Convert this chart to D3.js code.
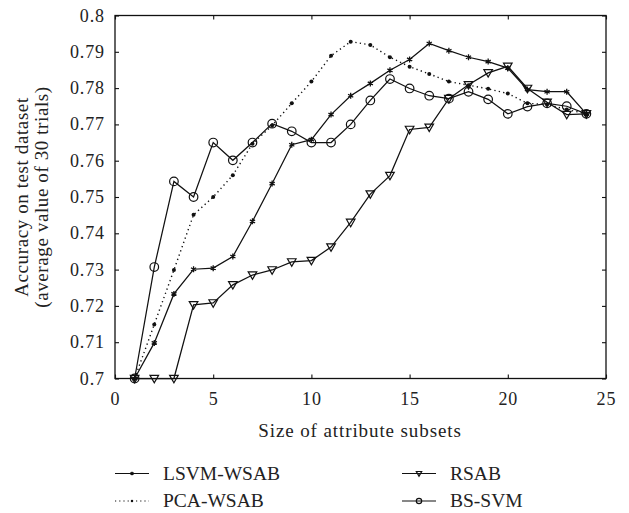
<!DOCTYPE html>
<html>
<head>
<meta charset="utf-8">
<script src="https://cdn.jsdelivr.net/npm/d3@7"></script>
<style>
  html, body { margin: 0; padding: 0; background: #fff; }
  svg text { font-family: "Liberation Serif", "DejaVu Serif", serif; fill: #222; }
</style>
</head>
<body>
<svg id="chart" width="629" height="513"></svg>
<script>
// Subset sizes (x) and accuracy per method
const sizes = d3.range(1, 25);
const lsvmWsab = [0.700, 0.7098, 0.7233, 0.7301, 0.7304, 0.7336, 0.7433, 0.7537, 0.7644, 0.7658,
                  0.7727, 0.7779, 0.7813, 0.7849, 0.7879, 0.7923, 0.7903, 0.7885, 0.7873, 0.7855,
                  0.7796, 0.7790, 0.7790, 0.7729];
const pcaWsab  = [0.700, 0.7149, 0.7299, 0.7451, 0.7500, 0.7560, 0.7647, 0.7697, 0.7758, 0.7818,
                  0.7889, 0.7928, 0.7919, 0.7885, 0.7859, 0.7839, 0.7818, 0.7808, 0.7798, 0.7785,
                  0.7758, 0.7755, 0.7741, 0.7730];
const rsab     = [0.700, 0.700, 0.700, 0.7203, 0.7208, 0.7258, 0.7285, 0.7299, 0.7321, 0.7325,
                  0.7362, 0.7430, 0.7508, 0.7559, 0.7686, 0.7692, 0.7771, 0.7809, 0.7842, 0.7860,
                  0.7799, 0.7761, 0.7727, 0.7729];
const bsSvm    = [0.700, 0.7307, 0.7543, 0.7500, 0.7650, 0.7601, 0.7650, 0.7702, 0.7681, 0.7650,
                  0.7650, 0.7700, 0.7766, 0.7825, 0.7799, 0.7779, 0.7771, 0.7790, 0.7769, 0.7729,
                  0.7749, 0.7758, 0.7750, 0.7729];

const xTicks = [0, 5, 10, 15, 20, 25];
const yTicks = [0.7, 0.71, 0.72, 0.73, 0.74, 0.75, 0.76, 0.77, 0.78, 0.79, 0.8];
const yTickLabels = ["0.7", "0.71", "0.72", "0.73", "0.74", "0.75", "0.76", "0.77", "0.78", "0.79", "0.8"];

const seriesNames = ["LSVM-WSAB", "PCA-WSAB", "RSAB", "BS-SVM"];
const seriesValues = [lsvmWsab, pcaWsab, rsab, bsSvm];
const seriesMarkers = ["star", "dot", "tri", "circle"];
const seriesDotted = [false, true, false, false];

const svg = d3.select("#chart");
const plotLeft = 115, plotRight = 606, plotTop = 15.5, plotBottom = 378.5;

const x = d3.scaleLinear().domain([0, 25]).range([plotLeft, plotRight]);
const y = d3.scaleLinear().domain([0.7, 0.8]).range([plotBottom, plotTop]);

// Frame
svg.append("rect")
  .attr("x", plotLeft).attr("y", plotTop)
  .attr("width", plotRight - plotLeft).attr("height", plotBottom - plotTop)
  .attr("fill", "none").attr("stroke", "#111").attr("stroke-width", 1.3);

// Inward ticks on all four sides
const tickLen = 4;
const tickStyle = g => g.call(s => s.select(".domain").remove())
  .call(s => s.selectAll("line").attr("stroke", "#111").attr("stroke-width", 1.1));
const tickFont = s => s.attr("font-size", 18).attr("letter-spacing", 0.9).attr("fill", "#222")
  .attr("font-family", "Liberation Serif, serif");

svg.append("g").attr("transform", `translate(0,${plotBottom})`)
  .call(d3.axisBottom(x).tickValues(xTicks).tickSizeInner(-tickLen).tickSizeOuter(0)
        .tickFormat(d3.format("d")))
  .call(tickStyle)
  .call(g => g.selectAll("text").call(tickFont).attr("y", 26).attr("dy", 0));

svg.append("g").attr("transform", `translate(0,${plotTop})`)
  .call(d3.axisTop(x).tickValues(xTicks).tickSizeInner(-tickLen).tickSizeOuter(0).tickFormat(""))
  .call(tickStyle);

svg.append("g").attr("transform", `translate(${plotLeft},0)`)
  .call(d3.axisLeft(y).tickValues(yTicks).tickSizeInner(-tickLen).tickSizeOuter(0)
        .tickPadding(10).tickFormat((d, i) => yTickLabels[i]))
  .call(tickStyle)
  .call(g => g.selectAll("text").call(tickFont).attr("x", -10).attr("dy", "0.31em"));

svg.append("g").attr("transform", `translate(${plotRight},0)`)
  .call(d3.axisRight(y).tickValues(yTicks).tickSizeInner(-tickLen).tickSizeOuter(0).tickFormat(""))
  .call(tickStyle);

// Marker drawing
function drawMarker(g, type, cx, cy, scale) {
  const s = scale || 1;
  if (type === "circle") {
    g.append("circle").attr("cx", cx).attr("cy", cy).attr("r", 4.3 * s)
      .attr("fill", "none").attr("stroke", "#111").attr("stroke-width", 1.2);
  } else if (type === "tri") {
    const h = 4.3 * s;
    g.append("path")
      .attr("d", `M${cx - h},${cy - h * 0.75}L${cx + h},${cy - h * 0.75}L${cx},${cy + h}Z`)
      .attr("fill", "none").attr("stroke", "#111").attr("stroke-width", 1.2);
  } else if (type === "dot") {
    g.append("circle").attr("cx", cx).attr("cy", cy).attr("r", 2 * s).attr("fill", "#111");
  } else if (type === "star") {
    const r = 3 * s;
    let d = "";
    for (let k = 0; k < 3; k++) {
      const a = k * Math.PI / 3 + Math.PI / 2;
      d += `M${cx - r * Math.cos(a)},${cy - r * Math.sin(a)}L${cx + r * Math.cos(a)},${cy + r * Math.sin(a)}`;
    }
    g.append("path").attr("d", d).attr("stroke", "#111").attr("stroke-width", 1.3).attr("fill", "none");
  }
}

const line = d3.line().x((d, i) => x(sizes[i])).y(d => y(d));

const plot = svg.append("g");
seriesValues.forEach((vals, si) => {
  const p = plot.append("path").datum(vals)
    .attr("d", line)
    .attr("fill", "none")
    .attr("stroke", "#111")
    .attr("stroke-width", 1.25);
  if (seriesDotted[si]) p.attr("stroke-dasharray", "1.3,3.2").attr("stroke-width", 1.4);
  const mg = plot.append("g");
  vals.forEach((v, i) => drawMarker(mg, seriesMarkers[si], x(sizes[i]), y(v)));
});

// Axis titles
svg.append("text")
  .attr("x", 360).attr("y", 437)
  .attr("text-anchor", "middle").attr("font-size", 19).attr("letter-spacing", 0.9)
  .text("Size of attribute subsets");

const yTitle = svg.append("text")
  .attr("transform", `translate(0,${(plotTop + plotBottom) / 2}) rotate(-90)`)
  .attr("text-anchor", "middle").attr("font-size", 19).attr("letter-spacing", 0.6);
yTitle.append("tspan").attr("x", 0).attr("y", 28).text("Accuracy on test dataset");
yTitle.append("tspan").attr("x", 0).attr("y", 48).text("(average value of 30 trials)");

// Legend
const legendPos = [[115, 473.5], [115, 501], [402, 473.5], [402, 501]];
const legend = svg.append("g");
seriesNames.forEach((name, si) => {
  const [lx, ly] = legendPos[si];
  const ln = legend.append("line")
    .attr("x1", lx).attr("x2", lx + 34).attr("y1", ly).attr("y2", ly)
    .attr("stroke", "#111").attr("stroke-width", 1.2);
  if (seriesDotted[si]) ln.attr("stroke-dasharray", "1.2,3");
  drawMarker(legend, seriesMarkers[si], lx + 17, ly, 0.62);
  legend.append("text")
    .attr("x", lx + 48).attr("y", ly + 6.2)
    .attr("font-size", 19.5)
    .text(name);
});
</script>
</body>
</html>
